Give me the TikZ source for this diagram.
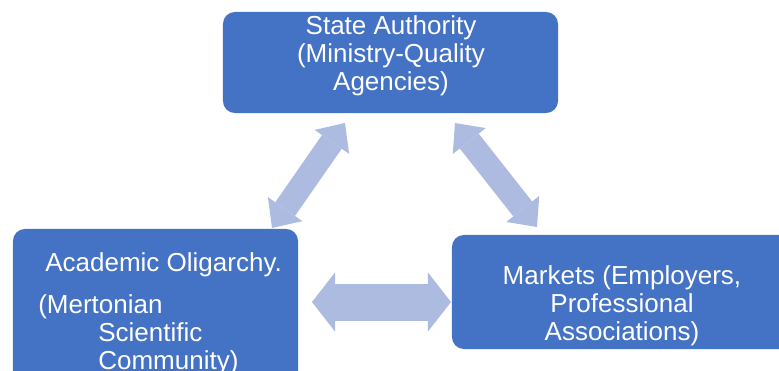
\documentclass[tikz,border=0pt]{standalone}
\usepackage{fontspec}
\setmainfont{Liberation Sans}
\usepackage{tikz}
\usetikzlibrary{
    positioning,
    arrows.meta,
    calc
}
\definecolor{boxBlue}{RGB}{68, 114, 196}
\definecolor{arrowBlue}{RGB}{174, 187, 224}

\begin{document}
\begin{tikzpicture}[x=0.025cm, y=-0.025cm,
    actor/.style={fill=boxBlue, rounded corners=0.3cm, inner sep=0pt},
    actorText/.style={text=white, font=\fontsize{18.5}{20}\selectfont, inner sep=0pt},
    diagArrow/.style={arrowBlue, line width=0.6cm,
        {Triangle[length=0.575cm 0 0, width=1.05cm 0 0, line width=0pt]}-{Triangle[length=0.575cm 0 0, width=1.05cm 0 0, line width=0pt]}},
    flatArrow/.style={arrowBlue, line width=0.925cm,
        {Triangle[length=0.575cm 0 0, width=1.475cm 0 0, line width=0pt]}-{Triangle[length=0.575cm 0 0, width=1.475cm 0 0, line width=0pt]}}]
    \useasboundingbox (0,0) rectangle (779,370);
    \clip (0,0) rectangle (779,370);

    % Boxes
    \node[actor, minimum width=8.375cm, minimum height=2.525cm] (stateBox) at (390.5,62.5) {};
    \node[actor, minimum width=7.125cm, minimum height=4.275cm] (academicBox) at (155.5,314.5) {};
    \node[actor, minimum width=8.7cm, minimum height=2.85cm] (marketsBox) at (626,292) {};

    % Texts
    \node[actorText, align=center] (stateText) at (391,56) {State Authority\\(Ministry-Quality\\Agencies)};
    \node[actorText, align=center] (marketsText) at (622,306) {Markets (Employers,\\Professional\\Associations)};
    \node[actorText, align=left, anchor=north west] (academicText) at (38,252.4)
        {\hspace*{0.175cm}Academic Oligarchy.\\[9.8pt]
         (Mertonian\\
         \hspace*{1.5cm}Scientific\\
         \hspace*{1.5cm}Community)};

    % Arrow ends
    \coordinate (stateLeft) at (345,123);
    \coordinate (academicTop) at (272,228);
    \coordinate (stateRight) at (455,123);
    \coordinate (marketsTop) at (537,227);
    \coordinate (academicRight) at (312,302);
    \coordinate (marketsLeft) at (451,302);

    % Double arrows
    \draw[diagArrow] (academicTop) -- (stateLeft);
    \draw[diagArrow] (stateRight) -- (marketsTop);
    \draw[flatArrow] (academicRight) -- (marketsLeft);
\end{tikzpicture}
\end{document}
